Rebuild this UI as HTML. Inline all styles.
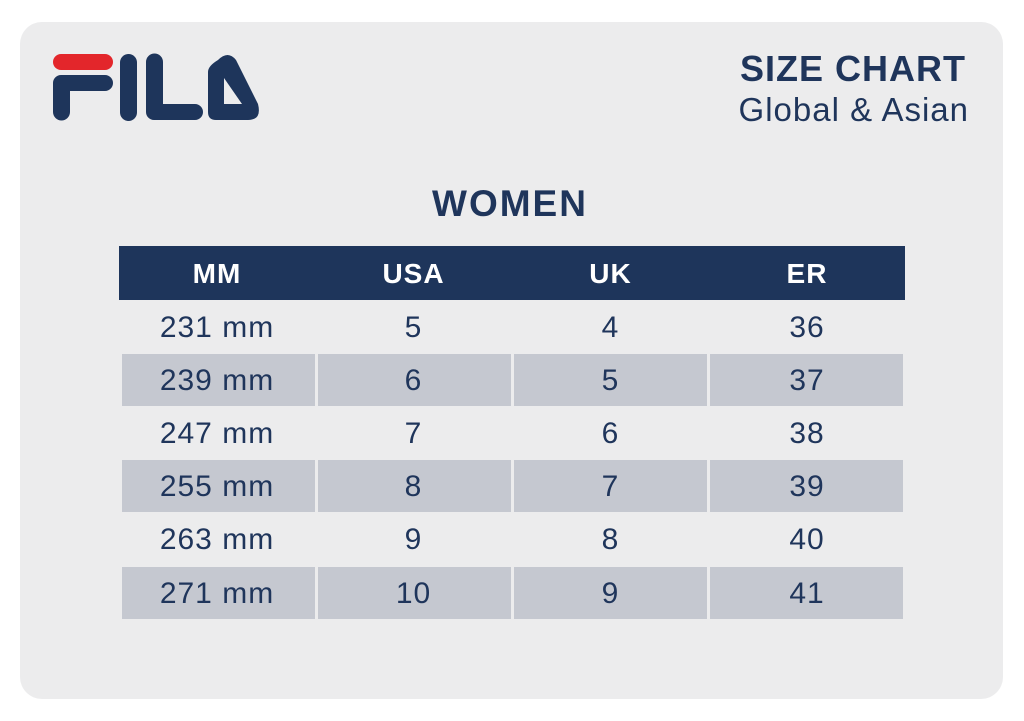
<!DOCTYPE html>
<html><head><meta charset="utf-8"><style>
body{margin:0;width:1024px;height:721px;background:#fff;font-family:"Liberation Sans",sans-serif;position:relative;overflow:hidden}
.card{position:absolute;left:20px;top:22px;width:983px;height:677px;background:#ececed;border-radius:22px}
.t{position:absolute;color:#1f355b;text-align:center}
.hdr{position:absolute;left:119px;top:246px;width:786px;height:54px;background:#1e355b}
.cell{position:absolute;color:#1f355b;font-size:30px;letter-spacing:1px;text-align:center;line-height:53px;height:53px}
.sh{position:absolute;background:#c5c8d0;height:52px}
</style></head><body>
<div class="card"></div>
<svg style="position:absolute;left:0;top:0" width="300" height="140">
<rect x="53" y="54" width="60" height="16" rx="8" fill="#e3262b"/>
<path d="M61 75 H105 a8 8 0 0 1 0 16 H70 V112 a8.5 8.5 0 0 1 -17 0 V83 a8 8 0 0 1 8 -8Z" fill="#1e355b"/>
<rect x="120" y="54" width="17" height="67" rx="8.5" fill="#1e355b"/>
<path d="M146 62 a8.5 8.5 0 0 1 17 0 V104 H195 a8 8 0 0 1 0 16 H154 a8 8 0 0 1 -8 -8Z" fill="#1e355b"/>
<path d="M218 60 Q228 50 236 60 L258 104 Q262 120 248 120 H216 Q208 120 208 112 V72 Q208 66 218 60Z M224 78 V104 H242Z" fill="#1e355b" fill-rule="evenodd"/>
</svg>
<div class="t" style="right:58px;top:48px;font-size:36px;font-weight:bold;letter-spacing:1px;text-align:right">SIZE CHART</div>
<div class="t" style="right:55px;top:91px;font-size:33px;letter-spacing:1px;text-align:right">Global &amp; Asian</div>
<div class="t" style="left:0;width:1020px;top:183px;font-size:37px;font-weight:bold;letter-spacing:2px">WOMEN</div>
<div class="hdr"></div>
<div class="cell" style="left:119px;width:196px;top:247px;color:#fff;font-weight:bold;font-size:28px">MM</div>
<div class="cell" style="left:315px;width:197px;top:247px;color:#fff;font-weight:bold;font-size:28px">USA</div>
<div class="cell" style="left:512px;width:197px;top:247px;color:#fff;font-weight:bold;font-size:28px">UK</div>
<div class="cell" style="left:709px;width:196px;top:247px;color:#fff;font-weight:bold;font-size:28px">ER</div>
<div class="sh" style="left:122px;width:193px;top:354px"></div><div class="sh" style="left:318px;width:193px;top:354px"></div><div class="sh" style="left:514px;width:193px;top:354px"></div><div class="sh" style="left:710px;width:193px;top:354px"></div>
<div class="sh" style="left:122px;width:193px;top:460px"></div><div class="sh" style="left:318px;width:193px;top:460px"></div><div class="sh" style="left:514px;width:193px;top:460px"></div><div class="sh" style="left:710px;width:193px;top:460px"></div>
<div class="sh" style="left:122px;width:193px;top:567px"></div><div class="sh" style="left:318px;width:193px;top:567px"></div><div class="sh" style="left:514px;width:193px;top:567px"></div><div class="sh" style="left:710px;width:193px;top:567px"></div>
<div class="cell" style="left:119px;width:196px;top:301px">231 mm</div><div class="cell" style="left:315px;width:197px;top:301px">5</div><div class="cell" style="left:512px;width:197px;top:301px">4</div><div class="cell" style="left:709px;width:196px;top:301px">36</div>
<div class="cell" style="left:119px;width:196px;top:354px">239 mm</div><div class="cell" style="left:315px;width:197px;top:354px">6</div><div class="cell" style="left:512px;width:197px;top:354px">5</div><div class="cell" style="left:709px;width:196px;top:354px">37</div>
<div class="cell" style="left:119px;width:196px;top:407px">247 mm</div><div class="cell" style="left:315px;width:197px;top:407px">7</div><div class="cell" style="left:512px;width:197px;top:407px">6</div><div class="cell" style="left:709px;width:196px;top:407px">38</div>
<div class="cell" style="left:119px;width:196px;top:460px">255 mm</div><div class="cell" style="left:315px;width:197px;top:460px">8</div><div class="cell" style="left:512px;width:197px;top:460px">7</div><div class="cell" style="left:709px;width:196px;top:460px">39</div>
<div class="cell" style="left:119px;width:196px;top:513px">263 mm</div><div class="cell" style="left:315px;width:197px;top:513px">9</div><div class="cell" style="left:512px;width:197px;top:513px">8</div><div class="cell" style="left:709px;width:196px;top:513px">40</div>
<div class="cell" style="left:119px;width:196px;top:567px">271 mm</div><div class="cell" style="left:315px;width:197px;top:567px">10</div><div class="cell" style="left:512px;width:197px;top:567px">9</div><div class="cell" style="left:709px;width:196px;top:567px">41</div>
</body></html>
